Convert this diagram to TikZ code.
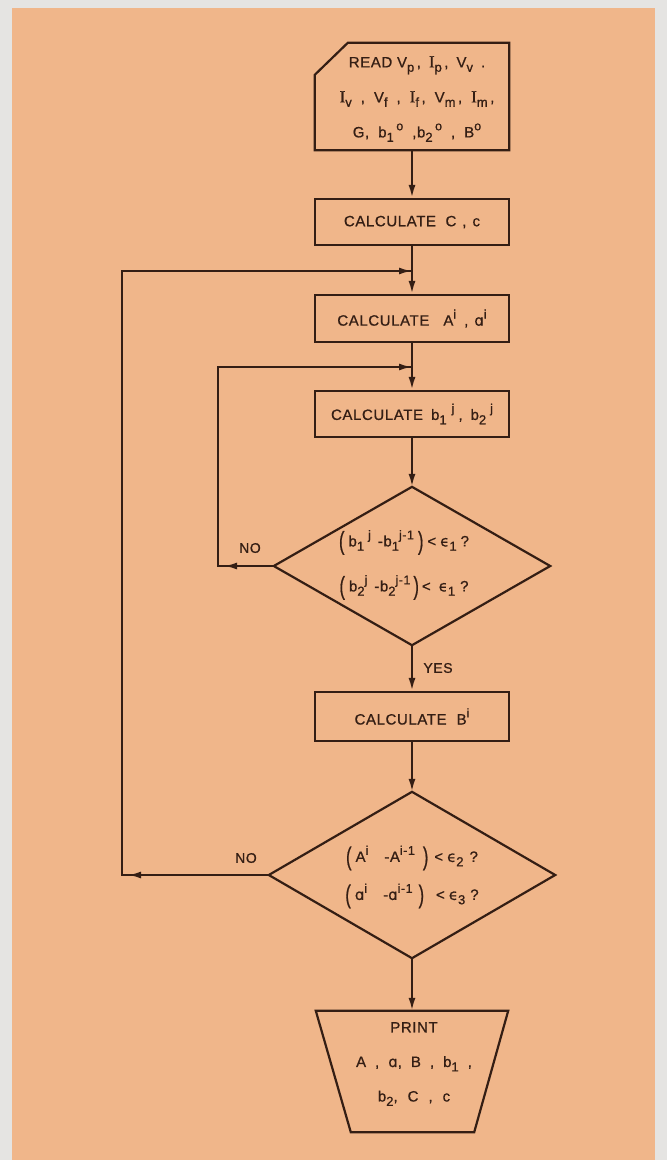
\documentclass[tikz,border=0pt]{standalone}
\usepackage{fontspec}
\usepackage{graphicx}
\setmainfont{Liberation Sans}[LetterSpace=4, FakeBold=0.8]
\newfontfamily\serI{Liberation Serif}[FakeBold=0.8]
\newfontfamily\dvs{DejaVu Sans}[FakeBold=0.5]
\usetikzlibrary{arrows.meta,calc}
\definecolor{paper}{RGB}{240,182,138}
\definecolor{margin}{RGB}{229,228,226}
\definecolor{ink}{RGB}{52,30,20}
\newcommand{\lo}[1]{\raisebox{-0.55ex}{\fontsize{13}{13}\selectfont #1}}
\newcommand{\hi}[1]{\raisebox{0.9ex}{\fontsize{12.5}{13}\selectfont #1}}
\newcommand{\Iser}{{\serI\fontsize{17}{17}\selectfont I}}
\newcommand{\myeps}{{\dvs ϵ}}
\newcommand{\alf}{{\dvs ɑ}}
\newcommand{\lpar}{\raisebox{-0.4ex}{\scalebox{1.1}[1.7]{(}}}
\newcommand{\rpar}{\raisebox{-0.4ex}{\scalebox{1.1}[1.7]{)}}}
\newcommand{\gap}[1][9pt]{\hspace{#1}}
\tikzset{
  outline/.style={draw=ink, line width=2.2pt, line join=miter},
  frame/.style={rectangle, inner sep=0pt, minimum width=194pt},
  calcbox/.style={frame, draw=ink, line width=2.2pt, text=ink, font=\fontsize{15}{18}\selectfont},
  txt/.style={text=ink, align=center, inner sep=0pt},
  lbl/.style={text=ink, inner sep=0pt, font=\fontsize{14}{16}\selectfont},
  conn/.style={draw=ink, line width=2.2pt},
  arr/.style={conn, -{Latex[length=13pt,width=7pt]}}
}
\begin{document}
\begin{tikzpicture}[x=1pt,y=-1pt]
\useasboundingbox (0,0) rectangle (667,1160);
\fill[margin] (0,0) rectangle (667,1160);
\fill[paper] (12,8) rectangle (655,1160);

% read box
\node[frame, minimum height=107pt] (read) at (412,96.5) {};
\draw[outline] ($(read.north west)+(33,0)$) -- (read.north east) -- (read.south east)
  -- (read.south west) -- ($(read.north west)+(0,32)$) -- cycle;
\node[txt, font=\fontsize{15}{35}\selectfont] (readtxt) at (417,99)
  {READ V\lo{p}\,,\gap[8pt]\Iser\lo{p}\,,\gap[8pt]V\lo{v}\gap[8pt].\\
   \Iser\lo{v}\gap ,\gap V\lo{f}\gap ,\gap\Iser\lo{f}\,,\gap V\lo{m}\,,\gap\Iser\lo{m}\,,\\
   G,\gap b\lo{1}\,\hi{o}\gap ,b\lo{2}\,\hi{o}\gap ,\gap B\hi{o}};

\node[calcbox, minimum height=46pt] (calcC) at (412,222) {CALCULATE\ \ C\gap[6pt],\gap[6pt]c};
\node[calcbox, minimum height=47pt] (calcA) at (412,318.5) {CALCULATE\gap[14pt]A\hi{i}\gap[8pt],\gap[6pt]\alf\hi{i}};
\node[calcbox, minimum height=46pt] (calcb) at (412,414) {CALCULATE\gap[8pt]b\lo{1}\gap[5pt]\hi{j}\gap[4pt],\gap[8pt]b\lo{2}\gap[4pt]\hi{j}};

% diamond 1
\node[rectangle, inner sep=0pt, minimum width=276pt, minimum height=158pt] (d1) at (412,566) {};
\draw[outline] (d1.north) -- (d1.east) -- (d1.south) -- (d1.west) -- cycle;
\node[txt, font=\fontsize{15}{45}\selectfont] (d1txt) at (404,565)
  {\lpar\gap[4pt]b\lo{1}\gap[4pt]\hi{j}\gap[7pt]-b\lo{1}\hi{j-1}\gap[4pt]\rpar\gap[4pt]<\gap[4pt]\myeps\lo{1}\gap[4pt]?\\
   \lpar\gap[4pt]b\lo{2}\hi{j}\gap[7pt]-b\lo{2}\hi{j-1}\gap[3pt]\rpar\gap[3pt]<\gap[8pt]\myeps\lo{1}\gap[5pt]?};

\node[calcbox, minimum height=49pt] (calcB) at (412,716.5) {CALCULATE\gap[10pt]B\hi{i}};

% diamond 2
\node[rectangle, inner sep=0pt, minimum width=286pt, minimum height=166pt] (d2) at (412,875) {};
\draw[outline] (d2.north) -- (d2.east) -- (d2.south) -- (d2.west) -- cycle;
\node[txt, font=\fontsize{15}{38}\selectfont] (d2txt) at (412,877)
  {\lpar\gap[4pt]A\hi{i}\gap[16pt]-A\hi{i-1}\gap[8pt]\rpar\gap[6pt]<\gap[4pt]\myeps\lo{2}\gap[6pt]?\\
   \lpar\gap[4pt]\alf\hi{i}\gap[16pt]-\alf\hi{i-1}\gap[6pt]\rpar\gap[12pt]<\gap[4pt]\myeps\lo{3}\gap[5pt]?};

% print
\node[rectangle, inner sep=0pt, minimum width=192pt, minimum height=121pt] (print) at (412,1071.5) {};
\draw[outline] (print.north west) -- (print.north east) -- ($(print.south east)+(-34,0)$)
  -- ($(print.south west)+(35,0)$) -- cycle;
\node[txt, font=\fontsize{15}{34.5}\selectfont] (printtxt) at (414,1064)
  {PRINT\\ A\gap ,\gap\alf,\gap B\gap ,\gap b\lo{1}\gap ,\\ b\lo{2},\gap[10pt]C\gap[10pt],\gap[10pt]c};

% main connectors
\draw[arr] (read.south) -- (calcC.north);
\draw[arr] (calcC.south) -- (calcA.north);
\draw[arr] (calcA.south) -- (calcb.north);
\draw[arr] (calcb.south) -- (d1.north);
\draw[arr] (d1.south) -- (calcB.north);
\draw[arr] (calcB.south) -- (d2.north);
\draw[arr] (d2.south) -- (print.north);
\node[lbl] (yes) at (438,668) {YES};

% inner loop
\coordinate (ic) at (218,566);
\coordinate (it) at (218,367);
\coordinate (ij) at (412,367);
\draw[conn] (d1.west) -- (ic) -- (it) -- (ij);
\draw[arr, shorten >=6pt] (d1.west) -- (ic);
\draw[arr] (it) -- (ij);
\node[lbl] (no1) at (250,548) {NO};

% outer loop
\coordinate (oc) at (122,875);
\coordinate (ot) at (122,271);
\coordinate (oj) at (412,271);
\draw[conn] (d2.west) -- (oc) -- (ot) -- (oj);
\draw[arr, shorten >=6pt] (d2.west) -- (oc);
\draw[arr] (ot) -- (oj);
\node[lbl] (no2) at (246,858) {NO};
\end{tikzpicture}
\end{document}
